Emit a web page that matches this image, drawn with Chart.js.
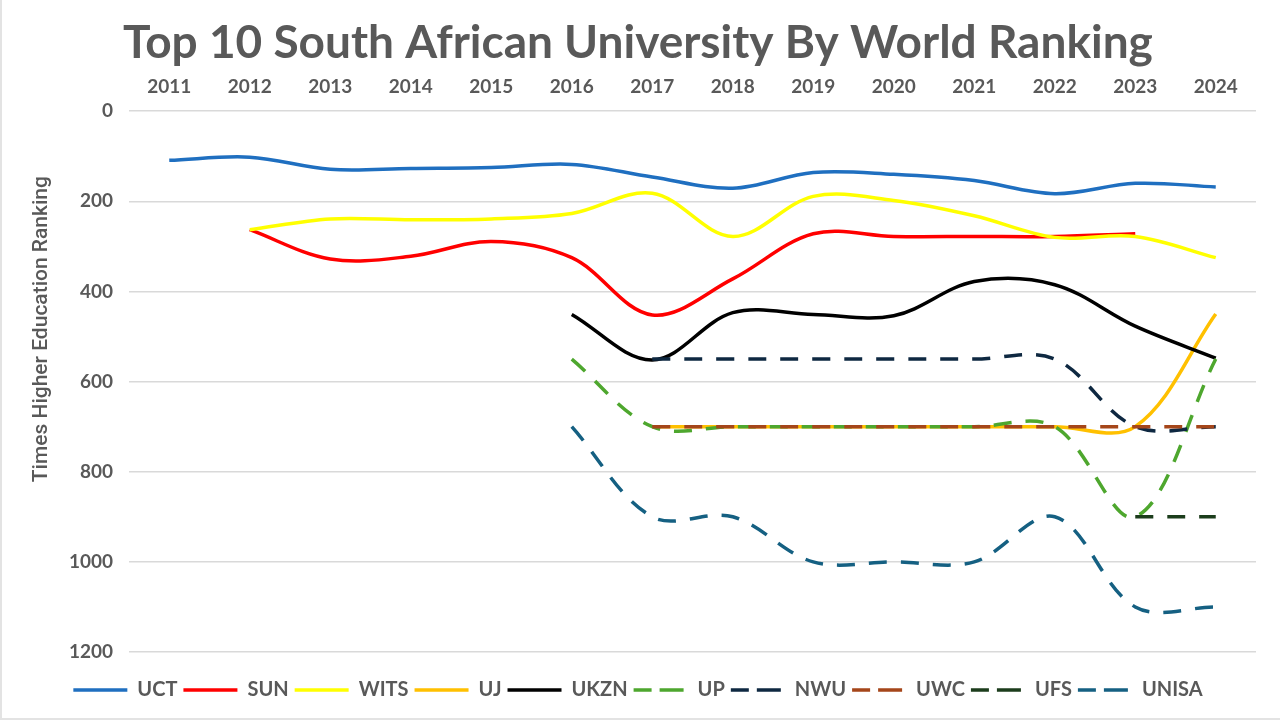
<!DOCTYPE html>
<html>
<head>
<meta charset="utf-8">
<script src="https://cdn.jsdelivr.net/npm/chart.js@4.4.1/dist/chart.umd.min.js"></script>
<style>
  html, body { margin: 0; padding: 0; background: #ffffff; }
  #wrap { position: relative; width: 1280px; height: 720px; box-sizing: border-box; border-left: 2px solid #e3e3e3; border-bottom: 2px solid #e3e3e3; }
</style>
</head>
<body>
<div id="wrap"><canvas id="rankChart"></canvas></div>
<script>
const years = ['2011', '2012', '2013', '2014', '2015', '2016', '2017', '2018', '2019', '2020', '2021', '2022', '2023', '2024'];

// THE ranking per year (null = not ranked / no data)
const uct   = [109, 102, 129, 127, 125, 118, 146, 171, 136, 140, 154, 183, 160, 168];
const sun   = [null, 263, 328, 322, 289, 325, 452, 372, 272, 278, 278, 278, 272, null];
const wits  = [null, 263, 239, 241, 239, 227, 182, 278, 189, 198, 232, 280, 278, 325];
const uj    = [null, null, null, null, null, null, 700, 700, 700, 700, 700, 700, 700, 450];
const ukzn  = [null, null, null, null, null, 451, 552, 447, 451, 454, 378, 385, 477, 548];
const up    = [null, null, null, null, null, 550, 700, 700, 700, 700, 700, 700, 900, 550];
const nwu   = [null, null, null, null, null, null, 550, 550, 550, 550, 550, 550, 700, 700];
const uwc   = [null, null, null, null, null, null, 700, 700, 700, 700, 700, 700, 700, 700];
const ufs   = [null, null, null, null, null, null, null, null, null, null, null, null, 900, 900];
const unisa = [null, null, null, null, null, 700, 900, 900, 1000, 1000, 1000, 900, 1100, 1100];

const textGrey = '#595959';
const dash = [18, 14];

function series(label, data, color, dashed) {
    return {
        label: label,
        data: data,
        borderColor: color,
        backgroundColor: color,
        borderWidth: 3.5,
        borderDash: dashed ? dash : [],
        pointRadius: 0,
        pointHoverRadius: 0,
        tension: 0.35,
        fill: false,
        spanGaps: false
    };
}

const datasets = [
    series('UCT', uct, '#1F6FC0', false),
    series('SUN', sun, '#FF0000', false),
    series('WITS', wits, '#FFFF00', false),
    series('UJ', uj, '#FFC000', false),
    series('UKZN', ukzn, '#000000', false),
    series('UP', up, '#4EA72E', true),
    series('NWU', nwu, '#0E2841', true),
    series('UWC', uwc, '#A5461A', true),
    series('UFS', ufs, '#1C3D1C', true),
    series('UNISA', unisa, '#156082', true)
];
// later series drawn on top, like the original
datasets.forEach((d, i) => { d.order = datasets.length - i; });

// y axis title sits a little above the middle in the original
const yTitle = {
    id: 'yTitle',
    afterDraw(chart) {
        const c = chart.ctx;
        const area = chart.chartArea;
        c.save();
        c.translate(40, area.top + (area.bottom - area.top) * 0.403);
        c.rotate(-Math.PI / 2);
        c.fillStyle = textGrey;
        c.font = '500 21px Roboto';
        c.textAlign = 'center';
        c.textBaseline = 'middle';
        c.fillText('Times Higher Education Ranking', 0, 0);
        c.restore();
    }
};

const ctx = document.getElementById('rankChart').getContext('2d');
new Chart(ctx, {
    type: 'line',
    data: {
        labels: years,
        datasets: datasets
    },
    options: {
        responsive: true,
        maintainAspectRatio: false,
        animation: false,
        layout: {
            padding: { top: 0, left: 18, right: 24, bottom: 8 }
        },
        scales: {
            x: {
                position: 'top',
                offset: true,
                grid: { display: false, drawTicks: false },
                border: { display: false },
                ticks: {
                    color: textGrey,
                    padding: 13,
                    font: { family: 'Lato', size: 19, weight: 'bold' }
                },
                afterFit: (s) => { s.height = 40; }
            },
            gap: {
                type: 'category',
                position: 'bottom',
                grid: { display: false, drawTicks: false },
                border: { display: false },
                ticks: { display: false },
                afterFit: (s) => { s.height = 22; }
            },
            y: {
                reverse: true,
                min: 0,
                max: 1200,
                border: { display: false },
                grid: { color: '#d9d9d9', lineWidth: 1.5, drawTicks: false },
                ticks: {
                    stepSize: 200,
                    color: textGrey,
                    padding: 16,
                    font: { family: 'Lato', size: 19, weight: 'bold' },
                    callback: (v) => String(v)
                },
                afterFit: (s) => { s.width = 109; }
            }
        },
        plugins: {
            title: {
                display: true,
                text: 'Top 10 South African University By World Ranking',
                color: textGrey,
                padding: { top: 16, bottom: 0 },
                font: { family: 'Lato', size: 46, weight: 'bold' }
            },
            legend: {
                position: 'bottom',
                labels: {
                    color: textGrey,
                    boxWidth: 54,
                    boxHeight: 0,
                    padding: 6,
                    font: { family: 'Lato', size: 20, weight: 'bold' },
                    sort: (a, b) => a.datasetIndex - b.datasetIndex
                }
            },
            tooltip: { enabled: false }
        }
    },
    plugins: [yTitle]
});
</script>
</body>
</html>
